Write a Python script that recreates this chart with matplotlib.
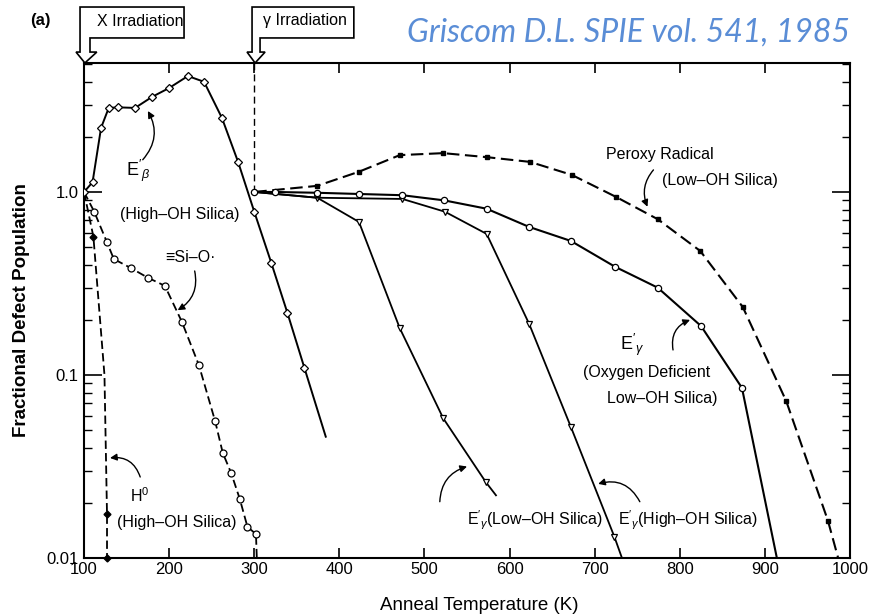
import matplotlib
matplotlib.use("Agg")
import matplotlib.pyplot as plt
from matplotlib.patches import Polygon
from matplotlib.transforms import blended_transform_factory
from matplotlib.ticker import FixedLocator, LogLocator, NullFormatter

plt.rcParams['font.family'] = ['Liberation Sans', 'DejaVu Sans']
plt.rcParams['mathtext.fontset'] = 'custom'
plt.rcParams['mathtext.rm'] = 'Liberation Sans'
plt.rcParams['mathtext.it'] = 'Liberation Sans:italic'
plt.rcParams['lines.scale_dashes'] = False

# ---------------- data ----------------
x_ticks = [100, 200, 300, 400, 500, 600, 700, 800, 900, 1000]
y_ticks = [0.01, 0.1, 1.0]
y_ticklabels = ['0.01', '0.1', '1.0']

T_beta = [100, 110, 120, 129, 140, 160, 180, 200, 222, 241, 262, 281, 300, 320, 339, 359, 384]
v_beta = [1.0, 1.13, 2.24, 2.88, 2.9, 2.88, 3.31, 3.7, 4.3, 4.0, 2.54, 1.46, 0.78, 0.41, 0.218, 0.109, 0.046]

T_sio = [100, 112, 127, 135, 155, 175, 195, 215, 235, 254, 263, 273, 283, 292, 302, 303]
v_sio = [1.0, 0.78, 0.53, 0.43, 0.384, 0.34, 0.307, 0.195, 0.113, 0.056, 0.0375, 0.029, 0.021, 0.0148, 0.0135, 0.01]

T_h0 = [100, 111, 124, 127, 127]
v_h0 = [1.0, 0.57, 0.1, 0.0173, 0.01]

T_per = [300, 374, 423, 471, 522, 573, 624, 673, 725, 774, 824, 874, 925, 974, 986]
v_per = [1.0, 1.08, 1.29, 1.59, 1.63, 1.55, 1.46, 1.24, 0.94, 0.71, 0.476, 0.235, 0.072, 0.016, 0.01]

T_odc = [300, 324, 374, 423, 474, 523, 573, 623, 672, 724, 774, 825, 873, 914]
v_odc = [1.0, 1.0, 0.99, 0.975, 0.96, 0.90, 0.81, 0.644, 0.54, 0.39, 0.30, 0.185, 0.085, 0.01]

T_low = [300, 374, 423, 471, 522, 572, 584]
v_low = [1.0, 0.93, 0.686, 0.18, 0.058, 0.026, 0.022]

T_high = [300, 374, 474, 524, 573, 623, 672, 723, 732]
v_high = [1.0, 0.93, 0.916, 0.78, 0.59, 0.19, 0.052, 0.0131, 0.01]

# ---------------- figure ----------------
fig = plt.figure(figsize=(8.69, 6.16), dpi=100)
ax = fig.add_axes([0.0967, 0.0942, 0.8815, 0.8036])
ax.set_yscale('log')
ax.set_xlim(100, 1000)
ax.set_ylim(0.01, 5.07)

k = 'black'
ax.plot(T_beta, v_beta, color=k, lw=1.4, marker='D', ms=4.5, mfc='white', mec=k, mew=0.9,
        markevery=list(range(len(T_beta) - 1)), zorder=3)
ax.plot(T_sio, v_sio, color=k, lw=1.3, dashes=(6, 3), marker='o', ms=5, mfc='white', mec=k, mew=0.9,
        markevery=list(range(1, len(T_sio) - 1)))
ax.plot(T_h0, v_h0, color=k, lw=1.3, dashes=(6, 3), marker='D', ms=3.5, mfc=k, mec=k,
        markevery=[1, 3, 4], clip_on=False)
ax.plot(T_per, v_per, color=k, lw=1.5, dashes=(9, 4), marker='s', ms=3.2, mfc=k, mec=k,
        markevery=list(range(1, len(T_per) - 1)))
ax.plot(T_odc, v_odc, color=k, lw=1.5, marker='o', ms=4.5, mfc='white', mec=k, mew=0.9,
        markevery=list(range(0, len(T_odc) - 1)), zorder=3)
ax.plot(T_low, v_low, color=k, lw=1.3, marker='v', ms=4, mfc='white', mec=k, mew=0.9,
        markevery=list(range(1, len(T_low) - 1)))
ax.plot(T_high, v_high, color=k, lw=1.3, marker='v', ms=4, mfc='white', mec=k, mew=0.9,
        markevery=list(range(2, len(T_high) - 1)))

# dashed line marking gamma irradiation
ax.plot([300, 300], [1.0, 5.07], color=k, lw=1.0, dashes=(5, 3))

# ---------------- axes styling ----------------
for s in ax.spines.values():
    s.set_linewidth(1.5)
ax.xaxis.set_major_locator(FixedLocator(x_ticks))
ax.set_xticklabels([str(t) for t in x_ticks])
ax.yaxis.set_major_locator(FixedLocator(y_ticks))
ax.set_yticklabels(y_ticklabels)
ax.yaxis.set_minor_locator(LogLocator(base=10, subs=[2, 3, 4, 5, 6, 7, 8, 9]))
ax.yaxis.set_minor_formatter(NullFormatter())
ax.tick_params(axis='both', which='major', direction='in', top=True, right=True,
               labelsize=12, width=1.2)
ax.tick_params(axis='x', which='major', length=7, pad=3)
ax.tick_params(axis='y', which='major', length=13, pad=4)
ax.tick_params(axis='y', which='minor', direction='in', right=True, length=6, width=1.0)
ax.tick_params(axis='x', which='minor', bottom=False, top=False)

ax.set_xlabel('Anneal Temperature (K)', fontsize=13.5)
ax.xaxis.set_label_coords(0.516, -0.078)
ax.set_ylabel('Fractional Defect Population', fontsize=13.5, fontweight='bold', labelpad=12)

# ---------------- callout boxes ----------------
bt = blended_transform_factory(ax.transData, ax.transAxes)
x_box = [95.3, 217.5, 217.5, 107.0, 107.0, 115.0, 101.0, 90.6, 95.3]
y_box = [1.113, 1.113, 1.0505, 1.0505, 1.022, 1.022, 1.0, 1.022, 1.022]
ax.add_patch(Polygon(list(zip(x_box, y_box)), closed=True, fill=False, ec=k, lw=1.2,
                     transform=bt, clip_on=False))
g_box = [297.4, 417.0, 417.0, 306.8, 306.8, 312.7, 301.0, 291.5, 297.4]
ax.add_patch(Polygon(list(zip(g_box, y_box)), closed=True, fill=False, ec=k, lw=1.2,
                     transform=bt, clip_on=False))
ax.text(166, 1.083, 'X Irradiation', transform=bt, ha='center', va='center', fontsize=11.5)
ax.text(359, 1.085, 'γ Irradiation', transform=bt, ha='center', va='center', fontsize=11.5)

fig.text(40 / 869, 1 - 20 / 616, '(a)', ha='center', va='center', fontsize=12, fontweight='bold')
fig.text(628 / 869, 1 - 33 / 616, 'Griscom D.L. SPIE vol. 541, 1985', ha='center', va='center',
         fontsize=23, style='italic', color='#5A8DD6', family=['Lato', 'DejaVu Sans'])

# ---------------- annotations ----------------
fs = 11.5
ax.text(163, 1.30, r"$\mathrm{E}'_{\beta}$", ha='center', va='center', fontsize=13)
ax.text(213, 0.75, '(High–OH Silica)', ha='center', va='center', fontsize=fs)
ax.text(225, 0.436, '≡Si–O·', ha='center', va='center', fontsize=fs)
ax.text(777, 1.61, 'Peroxy Radical', ha='center', va='center', fontsize=fs)
ax.text(847, 1.16, '(Low–OH Silica)', ha='center', va='center', fontsize=fs)
ax.text(730, 0.146, r"$\mathrm{E}'_{\gamma}$", ha='left', va='center', fontsize=13)
ax.text(686, 0.103, '(Oxygen Deficient', ha='left', va='center', fontsize=fs)
ax.text(714, 0.074, 'Low–OH Silica)', ha='left', va='center', fontsize=fs)
ax.text(550, 0.0161, r"$\mathrm{E}'_{\gamma}$(Low–OH Silica)", ha='left', va='center', fontsize=fs)
ax.text(727, 0.0161, r"$\mathrm{E}'_{\gamma}$(High–OH Silica)", ha='left', va='center', fontsize=fs)
ax.text(166, 0.022, r"H$^{0}$", ha='center', va='center', fontsize=fs)
ax.text(139, 0.0157, '(High–OH Silica)', ha='left', va='center', fontsize=fs)

arrows = [
    ((175, 2.77), (169, 1.50), 0.35),
    ((210, 0.226), (230, 0.37), -0.35),
    ((762, 0.83), (769, 1.32), 0.3),
    ((812, 0.20), (792, 0.137), -0.4),
    ((550, 0.0316), (518, 0.0203), -0.35),
    ((704, 0.0254), (753, 0.0203), 0.4),
    ((130.5, 0.0352), (166, 0.0277), 0.4),
]
for tip, tail, rad in arrows:
    ax.annotate('', xy=tip, xytext=tail,
                arrowprops=dict(arrowstyle='-|>', color=k, lw=1.0, mutation_scale=10,
                                shrinkA=0, shrinkB=0,
                                connectionstyle=f'arc3,rad={rad}'))

fig.savefig('out.png', dpi=100)
